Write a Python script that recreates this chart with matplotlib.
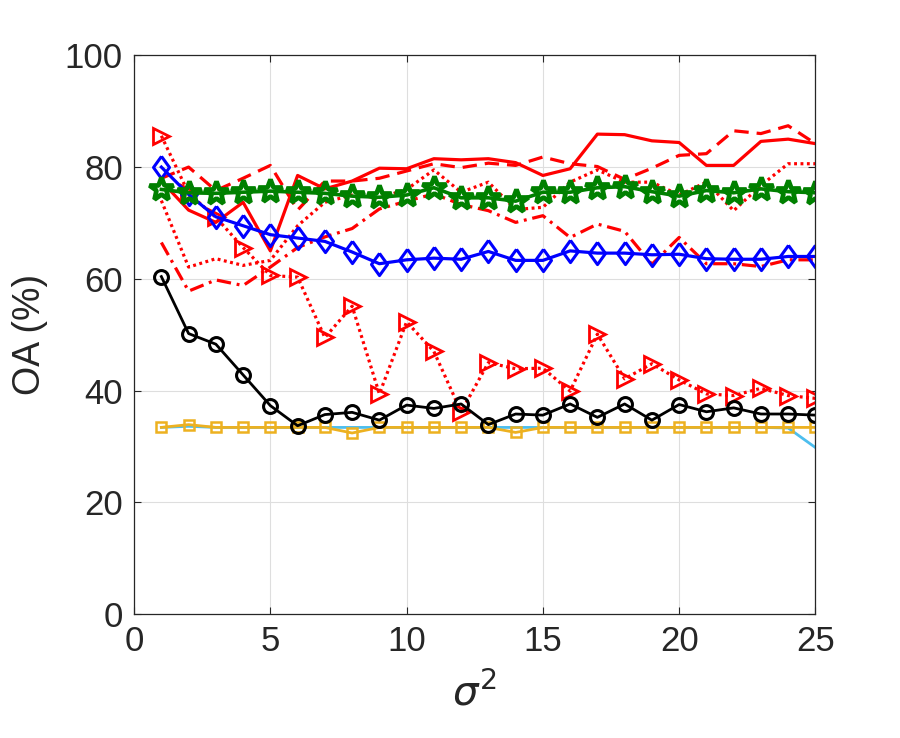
import matplotlib.pyplot as plt

# sigma^2 values and OA (%) per method
x = list(range(1, 26))

red_solid = [77.5, 72.3, 70.1, 73.7, 65.0, 78.5, 76.1, 77.5, 79.8, 79.7, 81.5, 81.3, 81.5,
             80.8, 78.5, 79.7, 85.9, 85.8, 84.7, 84.4, 80.3, 80.3, 84.6, 85.0, 84.2]
red_dashed = [78.0, 80.0, 75.8, 78.0, 80.3, 72.3, 77.5, 77.5, 78.0, 79.3, 80.6, 79.9, 80.7,
              80.3, 81.8, 80.6, 80.1, 77.8, 79.8, 82.1, 82.4, 86.5, 86.0, 87.4, 84.2]
red_dotted = [74.0, 62.1, 63.6, 62.4, 63.3, 69.5, 73.7, 75.0, 74.5, 76.0, 79.5, 75.5, 77.3,
              72.4, 72.8, 77.3, 79.5, 77.3, 77.3, 75.0, 77.3, 72.2, 76.7, 80.6, 80.6]
red_dashdot = [66.5, 57.8, 59.8, 58.8, 62.1, 65.6, 67.5, 69.0, 72.5, 73.9, 75.2, 73.3, 72.2,
               70.1, 71.3, 67.4, 69.8, 68.5, 62.6, 67.4, 62.7, 62.7, 62.2, 63.4, 63.4]
red_tri = [85.6, 75.3, 71.0, 65.6, 60.6, 60.3, 49.5, 55.1, 39.4, 52.3, 47.0, 36.2, 45.0,
           43.9, 44.0, 39.9, 50.1, 42.1, 44.8, 41.9, 39.4, 39.1, 40.4, 39.1, 38.6]
cyan = [33.4, 33.6, 33.4, 33.4, 33.4, 33.4, 33.4, 33.4, 33.4, 33.4, 33.4, 33.4, 33.4,
        33.4, 33.4, 33.4, 33.4, 33.4, 33.4, 33.4, 33.4, 33.4, 33.4, 33.3, 29.8]
orange = [33.4, 33.9, 33.4, 33.4, 33.4, 33.4, 33.4, 32.4, 33.4, 33.4, 33.4, 33.4, 33.4,
          32.5, 33.4, 33.4, 33.4, 33.4, 33.4, 33.4, 33.4, 33.4, 33.4, 33.4, 33.4]
black = [60.4, 50.2, 48.3, 42.8, 37.3, 33.7, 35.7, 36.1, 34.7, 37.4, 36.8, 37.6, 33.9,
         35.8, 35.6, 37.6, 35.2, 37.6, 34.7, 37.5, 36.2, 36.9, 35.8, 35.8, 35.6]
blue = [80.0, 75.1, 71.1, 69.5, 67.9, 67.3, 66.7, 64.8, 62.7, 63.4, 63.7, 63.5, 64.9,
        63.3, 63.3, 65.0, 64.6, 64.6, 64.3, 64.4, 63.6, 63.5, 63.5, 64.0, 64.0]
green = [76.0, 75.4, 75.3, 75.5, 75.7, 75.5, 75.3, 74.8, 74.6, 75.0, 76.3, 74.5, 74.5,
         73.9, 75.5, 75.5, 76.3, 76.5, 75.6, 74.8, 75.8, 75.4, 76.1, 75.6, 75.4]

xticks = [0, 5, 10, 15, 20, 25]
yticks = [0, 20, 40, 60, 80, 100]

plt.rcParams['font.family'] = ['Liberation Sans', 'DejaVu Sans']
plt.rcParams['mathtext.fontset'] = 'dejavusans'

fig = plt.figure(figsize=(9, 7.38), dpi=100)
ax = fig.add_axes([0.149, 0.168, 0.757, 0.757])

# MATLAB-like diamond, a bit wider than matplotlib's thin 'd'
diamond = [(0, 1), (0.72, 0), (0, -1), (-0.72, 0), (0, 1)]

red = '#ff0000'
lw = 2.3
ax.plot(x, red_solid, color=red, lw=lw, ls='-')
ax.plot(x, red_dashed, color=red, lw=lw, ls=(0, (4.5, 2.5)))
ax.plot(x, red_dotted, color=red, lw=lw, ls=(0, (0.9, 1.1)))
ax.plot(x, red_dashdot, color=red, lw=lw, ls=(0, (4.5, 1.8, 0.9, 1.8)))
ax.plot(x, red_tri, color=red, lw=lw, ls=(0, (0.9, 1.1)), marker='>', ms=11,
        mfc='none', mec=red, mew=2)
ax.plot(x, cyan, color='#4dbeee', lw=2)
ax.plot(x, orange, color='#edb120', lw=2, marker='s', ms=7.5, mfc='none', mew=1.8)
ax.plot(x, black, color='black', lw=2, marker='o', ms=10, mfc='none', mew=2.2)
ax.plot(x, blue, color='#0000ff', lw=2.3, marker=diamond, ms=16, mfc='none', mew=2.2)
ax.plot(x, green, color='#008000', lw=2.6, marker='*', ms=18, mfc='none', mew=3.4)

ax.set_xlim(0, 25)
ax.set_ylim(0, 100)
ax.set_xticks(xticks)
ax.set_yticks(yticks)
ax.grid(True, color='#dedede', lw=0.8)
ax.set_axisbelow(True)
ax.tick_params(direction='in', length=5, width=0.8, top=True, right=True,
               labelsize=25, colors='#262626', pad=8)
for s in ax.spines.values():
    s.set_color('#262626')
    s.set_linewidth(0.9)

ax.set_xlabel(r'$\sigma^2$', fontsize=29, color='#262626', labelpad=10)
ax.set_ylabel('OA (%)', fontsize=27, color='#262626', labelpad=12)

fig.savefig('out.png', dpi=100)
